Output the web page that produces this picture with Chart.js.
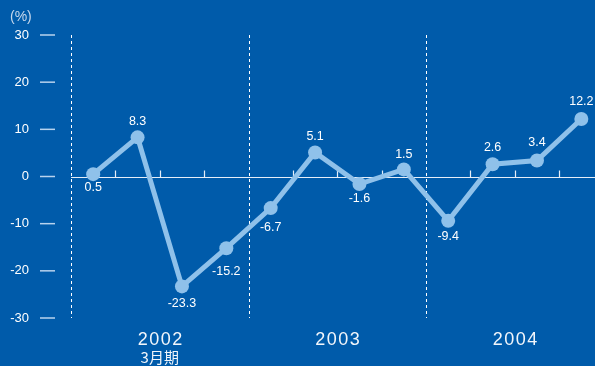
<!DOCTYPE html>
<html>
<head>
<meta charset="utf-8">
<script src="https://cdn.jsdelivr.net/npm/chart.js@4"></script>
<style>
  html, body { margin: 0; padding: 0; background: #005baa; }
  #wrap { width: 595px; height: 366px; position: relative; }
</style>
</head>
<body>
<div id="wrap"><canvas id="chart"></canvas></div>
<script>
// --- Data ---
const values = [0.5, 8.3, -23.3, -15.2, -6.7, 5.1, -1.6, 1.5, -9.4, 2.6, 3.4, 12.2];
const yTicks = [30, 20, 10, 0, -10, -20, -30];
const years = ['2002', '2003', '2004'];
const yearCenters = [2, 6, 10];      // x position (in quarters) of each year label
const yearDividers = [0, 4, 8];      // dashed separators between years
const unitLabel = '(%)';
const subLabel = '3月期';

// vertical offset of each value label from its point (px)
const labelDy = [13, -16, 17, 23, 19, -16, 15, -15, 16, -17, -18, -17];

const LINE_COLOR = '#8fc1ea';
const FONT = '"Liberation Sans", Arial, sans-serif';

const points = values.map((v, i) => ({ x: i + 0.5, y: v }));

// draws axis labels, separators, zero line and value labels
const decorations = {
    id: 'decorations',
    beforeDatasetsDraw(chart) {
        const ctx = chart.ctx;
        const xs = chart.scales.x, ys = chart.scales.y;
        const area = chart.chartArea;
        ctx.save();

        // y tick labels and dashes
        ctx.font = '13px ' + FONT;
        ctx.textAlign = 'right';
        ctx.textBaseline = 'middle';
        yTicks.forEach(t => {
            const y = ys.getPixelForValue(t);
            ctx.fillStyle = '#ffffff';
            ctx.fillText(String(t), 29, y);
            ctx.strokeStyle = '#b8d3ee';
            ctx.lineWidth = 1.5;
            ctx.beginPath();
            ctx.moveTo(40, y);
            ctx.lineTo(55, y);
            ctx.stroke();
        });

        ctx.fillStyle = '#c6d8ec';
        ctx.textAlign = 'left';
        ctx.font = '14px ' + FONT;
        ctx.fillText(unitLabel, 10, 17);

        // dashed year separators
        ctx.strokeStyle = '#ffffff';
        ctx.lineWidth = 1;
        ctx.setLineDash([3, 3]);
        yearDividers.forEach(d => {
            const x = Math.round(xs.getPixelForValue(d)) + 0.5;
            ctx.beginPath();
            ctx.moveTo(x, ys.getPixelForValue(30));
            ctx.lineTo(x, ys.getPixelForValue(-30));
            ctx.stroke();
        });
        ctx.setLineDash([]);

        // zero line with quarter ticks
        const y0 = Math.round(ys.getPixelForValue(0)) + 0.5;
        ctx.strokeStyle = '#e6eef8';
        ctx.lineWidth = 1.2;
        ctx.beginPath();
        ctx.moveTo(area.left, y0);
        ctx.lineTo(chart.width, y0);
        ctx.stroke();
        for (let i = 1; i < 12; i++) {
            if (yearDividers.includes(i)) continue;
            const x = Math.round(xs.getPixelForValue(i)) + 0.5;
            ctx.beginPath();
            ctx.moveTo(x, y0);
            ctx.lineTo(x, y0 - 7);
            ctx.stroke();
        }

        // year labels
        ctx.fillStyle = '#f2f6fb';
        ctx.textAlign = 'center';
        ctx.font = '18px ' + FONT;
        ctx.letterSpacing = '1.5px';
        years.forEach((yr, i) => {
            ctx.fillText(yr, xs.getPixelForValue(yearCenters[i]) + 1, 340);
        });
        ctx.letterSpacing = '0px';
        ctx.font = '15px "Noto Sans CJK JP", sans-serif';
        ctx.fillText(subLabel, xs.getPixelForValue(yearCenters[0]), 357);
        ctx.restore();
    },
    afterDatasetsDraw(chart) {
        const ctx = chart.ctx;
        const meta = chart.getDatasetMeta(0);
        ctx.save();
        ctx.fillStyle = '#ffffff';
        ctx.font = '12.5px ' + FONT;
        ctx.textAlign = 'center';
        ctx.textBaseline = 'middle';
        meta.data.forEach((pt, i) => {
            ctx.fillText(values[i].toFixed(1), pt.x, pt.y + labelDy[i]);
        });
        ctx.restore();
    }
};

new Chart(document.getElementById('chart'), {
    type: 'line',
    data: {
        datasets: [{
            data: points,
            borderColor: LINE_COLOR,
            backgroundColor: LINE_COLOR,
            borderWidth: 5,
            pointRadius: 7,
            pointHoverRadius: 7,
            pointBorderWidth: 0,
            tension: 0,
            clip: false
        }]
    },
    options: {
        responsive: true,
        maintainAspectRatio: false,
        animation: false,
        layout: { padding: { left: 71, top: 35, right: 0, bottom: 48 } },
        plugins: { legend: { display: false }, tooltip: { enabled: false } },
        scales: {
            x: { type: 'linear', min: 0, max: 11.65, display: false },
            y: { min: -30, max: 30, display: false }
        }
    },
    plugins: [decorations]
});
</script>
</body>
</html>
